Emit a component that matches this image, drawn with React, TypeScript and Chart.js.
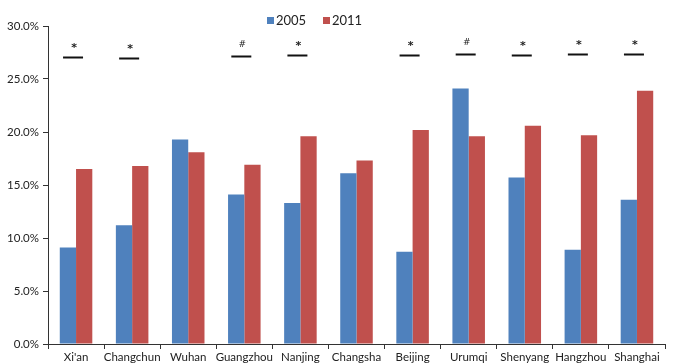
import React, { useEffect, useRef } from "react";
import { Chart, registerables } from "chart.js";

Chart.register(...registerables);

const cities = ["Xi'an", "Changchun", "Wuhan", "Guangzhou", "Nanjing", "Changsha", "Beijing", "Urumqi", "Shenyang", "Hangzhou", "Shanghai"];
const values2005 = [9.1, 11.2, 19.3, 14.1, 13.3, 16.1, 8.7, 24.1, 15.7, 8.9, 13.6];
const values2011 = [16.5, 16.8, 18.1, 16.9, 19.6, 17.3, 20.2, 19.6, 20.6, 19.7, 23.9];
const markers = ["*", "*", "", "#", "*", "", "*", "#", "*", "*", "*"];
const markerLevels = [27.1, 27.0, 0, 27.2, 27.3, 0, 27.3, 27.4, 27.3, 27.4, 27.4];
const legendLabels = ["2005", "2011"];

const BLUE = "#4f81bd";
const RED = "#c0504d";
const FONT = "Lato, 'Open Sans', 'DejaVu Sans', sans-serif";

const annotationPlugin = {
  id: "annot",
  afterDraw(chart: any) {
    const ctx = chart.ctx;
    const x = chart.scales.x;
    const y = chart.scales.y;
    ctx.save();
    markers.forEach((m, i) => {
      if (!m) return;
      const cx = x.getPixelForValue(i) - 3;
      const ly = Math.round(y.getPixelForValue(markerLevels[i])) + 0.5;
      ctx.strokeStyle = "#111";
      ctx.lineWidth = 2;
      ctx.beginPath();
      ctx.moveTo(cx - 10, ly);
      ctx.lineTo(cx + 10, ly);
      ctx.stroke();
      ctx.fillStyle = "#222";
      ctx.font = (m === "*" ? "bold 11px " : "9px ") + "'DejaVu Sans', sans-serif";
      ctx.textAlign = "center";
      ctx.textBaseline = "middle";
      ctx.fillText(m, cx + 1, ly - (m === "*" ? 9 : 12));
    });
    // legend
    const items = [
      { c: BLUE, t: legendLabels[0], x: 267 },
      { c: RED, t: legendLabels[1], x: 323 },
    ];
    ctx.font = "13px " + FONT;
    ctx.textAlign = "left";
    ctx.textBaseline = "middle";
    items.forEach((it) => {
      ctx.fillStyle = it.c;
      ctx.fillRect(it.x, 17, 7, 7);
      ctx.fillStyle = "#222";
      ctx.fillText(it.t, it.x + 9, 20.5);
    });
    ctx.restore();
  },
};

export default function App() {
  const ref = useRef<HTMLCanvasElement>(null);
  useEffect(() => {
    document.body.style.margin = "0";
    const chart = new Chart(ref.current!, {
      type: "bar",
      data: {
        labels: cities,
        datasets: [
          { label: legendLabels[0], data: values2005, backgroundColor: BLUE, categoryPercentage: 0.58, barPercentage: 1.0 },
          { label: legendLabels[1], data: values2011, backgroundColor: RED, categoryPercentage: 0.58, barPercentage: 1.0 },
        ],
      },
      options: {
        animation: false,
        responsive: false,
        layout: { padding: { top: 26, right: 9, left: 0, bottom: 0 } },
        plugins: { legend: { display: false }, tooltip: { enabled: false } },
        scales: {
          x: {
            grid: { display: true, drawOnChartArea: false, color: "#333", tickLength: 5, offset: true },
            border: { display: true, color: "#333", width: 1 },
            ticks: { color: "#222", font: { family: FONT, size: 11.5 }, padding: 1, maxRotation: 0, autoSkip: false },
            afterFit: (s: any) => { s.height = 20; },
          },
          y: {
            min: 0,
            max: 30,
            grid: { display: true, drawOnChartArea: false, color: "#333", tickLength: 5 },
            border: { display: true, color: "#333", width: 1 },
            ticks: {
              stepSize: 5,
              color: "#222",
              font: { family: FONT, size: 11.5 },
              padding: 4,
              callback: (v: any) => Number(v).toFixed(1) + "%",
            },
            afterFit: (s: any) => { s.width = 48; },
          },
        },
      },
      plugins: [annotationPlugin],
    });
    return () => chart.destroy();
  }, []);
  return <canvas ref={ref} width={674} height={364} style={{ display: "block" }} />;
}
